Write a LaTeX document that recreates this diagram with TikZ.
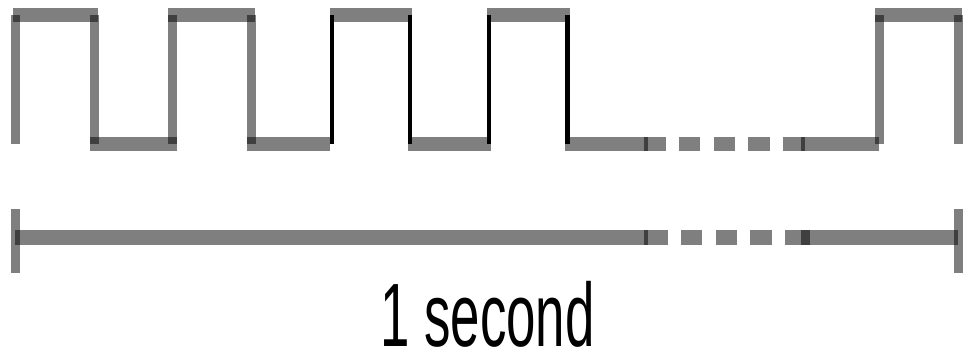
\documentclass[tikz,border=0pt]{standalone}
\usepackage{fontspec}
\setmainfont{Liberation Sans}
\begin{document}
\begin{tikzpicture}[x=1pt,y=-1pt,
  gh/.style={draw=black,draw opacity=0.5,line width=14pt,line cap=butt},
  ghs/.style={draw=black,draw opacity=0.5,line width=15pt,line cap=butt},
  gv/.style={draw=black,draw opacity=0.5,line width=9pt,line cap=butt},
  bv/.style={draw=black,line width=4.2pt,line cap=butt}]
\useasboundingbox (0,0) rectangle (965,349);
% square wave: horizontal bars
\draw[gh] (13,15) -- (98,15);
\draw[gh] (90,144) -- (177,144);
\draw[gh] (168,15) -- (255,15);
\draw[gh] (247,144) -- (330,144);
\draw[gh] (330,15) -- (412,15);
\draw[gh] (408,144) -- (491,144);
\draw[gh] (487,15) -- (570,15);
\draw[gh] (565,144) -- (648,144);
\draw[gh] (644,144) -- (666,144);
\draw[gh] (679,144) -- (700,144);
\draw[gh] (714,144) -- (735,144);
\draw[gh] (748,144) -- (770,144);
\draw[gh] (783,144) -- (805,144);
\draw[gh] (801,144) -- (879,144);
\draw[gh] (875,15) -- (962,15);
% grey verticals
\draw[gv] (15.5,15) -- (15.5,144);
\draw[gv] (94,15) -- (94,144);
\draw[gv] (172.5,15) -- (172.5,144);
\draw[gv] (251,15) -- (251,144);
\draw[gv] (879.5,15) -- (879.5,144);
\draw[gv] (958,15) -- (958,144);
% black verticals
\draw[bv] (332,15) -- (332,144);
\draw[bv] (410,15) -- (410,144);
\draw[bv] (489,15) -- (489,144);
\draw[bv] (567.5,15) -- (567.5,144);
% scale bar
\draw[ghs] (15,237.5) -- (648,237.5);
\draw[ghs] (644,237.5) -- (668,237.5);
\draw[ghs] (681,237.5) -- (702,237.5);
\draw[ghs] (716,237.5) -- (737,237.5);
\draw[ghs] (750,237.5) -- (772,237.5);
\draw[ghs] (785,237.5) -- (810,237.5);
\draw[ghs] (801,237.5) -- (958,237.5);
\draw[gv] (15.5,209) -- (15.5,273);
\draw[gv] (958,209) -- (958,273);
% label
\node[anchor=base,inner sep=0pt] (lbl) at (487.5,346)
  {\raisebox{0pt}[\height][0pt]{\scalebox{0.587}[1]{\fontsize{90}{90}\selectfont 1 second}}};
\end{tikzpicture}
\end{document}
